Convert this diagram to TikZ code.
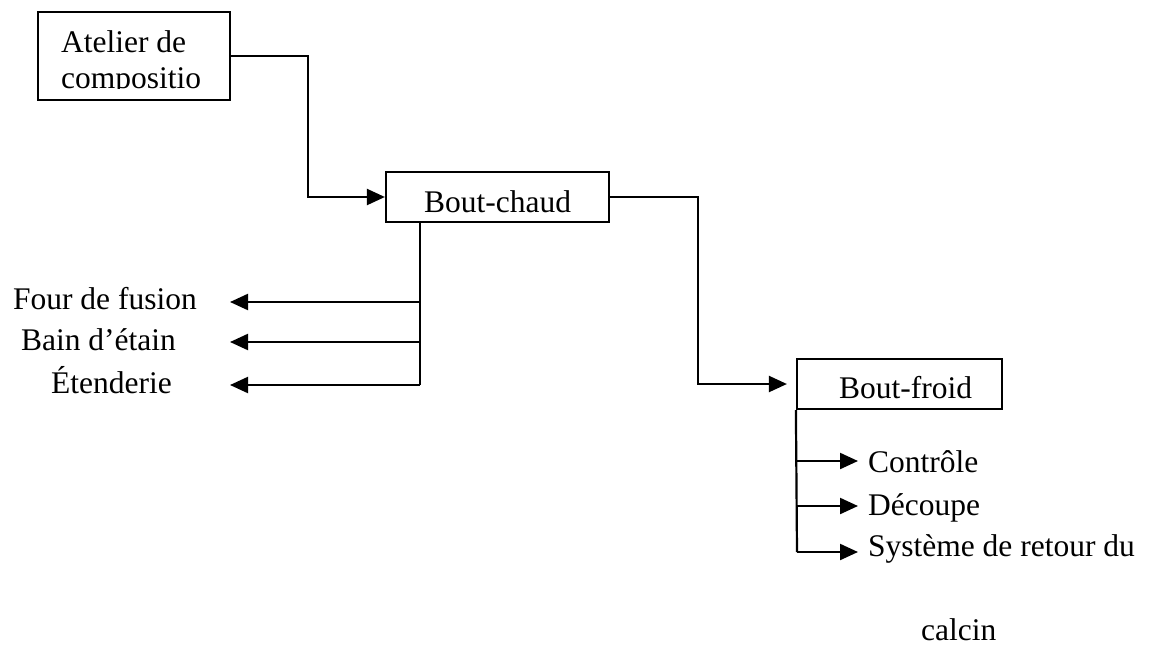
\documentclass[tikz,border=0pt]{standalone}
\usepackage{fontspec}
\setmainfont{Liberation Serif}
\usetikzlibrary{arrows.meta}
\begin{document}
\begin{tikzpicture}[x=1pt,y=-1pt,
  line width=2.2pt,
  box/.style={draw, rectangle, inner sep=0pt},
  lbl/.style={inner sep=0pt, anchor=base west, font=\fontsize{31.5}{36}\selectfont},
  arr/.style={-{Triangle[length=18pt,width=16pt]}}]
\useasboundingbox (0,0) rectangle (1153,646);

% boxes
\node[box, minimum width=192pt, minimum height=88pt] (atelier) at (134,56) {};
\node[box, minimum width=223pt, minimum height=50pt] (chaud) at (497.5,197) {};
\node[box, minimum width=205pt, minimum height=50pt] (froid) at (899.5,384) {};

% box texts
\begin{scope}
  \clip (38,12) rectangle (230,88);
  \node[lbl] (t-atelier1) at (60,52) {Atelier de};
  \node[lbl] (t-atelier2) at (60,88) {compositio};
\end{scope}
\node[lbl] (t-chaud) at (423,212) {Bout-chaud};
\node[lbl] (t-froid) at (838,398) {Bout-froid};

% main flow
\draw[arr] (atelier.east) -- ++(77,0) |- (chaud.west);
\draw[arr, shorten >=9pt] (chaud.east) -- ++(88,0) |- (froid.west);

% hot-end branches
\coordinate (cb) at (420,222);
\coordinate (c1) at (420,302);
\coordinate (c2) at (420,342);
\coordinate (c3) at (420,385);
\coordinate (tip) at (230,0);
\node[lbl] (four) at (12,309) {Four de fusion};
\node[lbl] (bain) at (20,350) {Bain d’étain};
\node[lbl] (eten) at (50,393) {Étenderie};
\draw (cb) -- (c3);
\draw[arr] (c1) -- (c1 -| tip);
\draw[arr] (c2) -- (c2 -| tip);
\draw[arr] (c3) -- (c3 -| tip);

% cold-end branches
\coordinate (fb) at (froid.south west);
\coordinate (f1) at (797,461);
\coordinate (f2) at (797,506);
\coordinate (f3) at (797,552);
\coordinate (ftip) at (858,0);
\node[lbl] (ctrl) at (867,472) {Contrôle};
\node[lbl] (dec) at (867,515) {Découpe};
\node[lbl] (sys) at (867,556) {Système de retour du};
\node[lbl] (calc) at (920,640) {calcin};
\draw (fb) -- (f3);
\draw[arr] (f1) -- (f1 -| ftip);
\draw[arr] (f2) -- (f2 -| ftip);
\draw[arr] (f3) -- (f3 -| ftip);
\end{tikzpicture}
\end{document}
